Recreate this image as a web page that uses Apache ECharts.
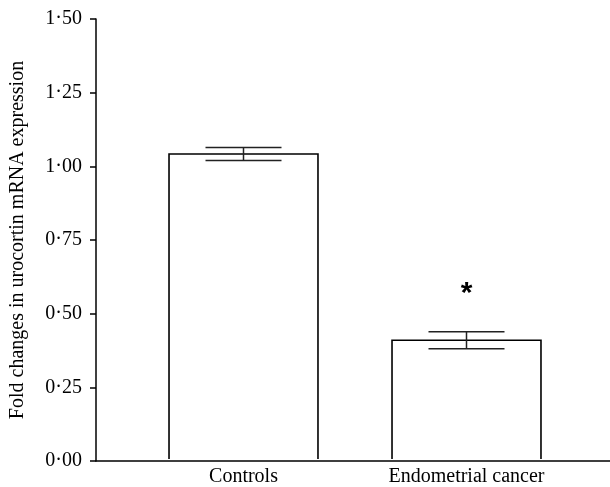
<!DOCTYPE html>
<html>
<head>
<meta charset="utf-8">
<script src="https://cdn.jsdelivr.net/npm/echarts@6/dist/echarts.min.js"></script>
<style>
html,body{margin:0;padding:0;background:#fff;}
#chart{width:610px;height:487px;}
</style>
</head>
<body>
<div id="chart"></div>
<script>
const categories = ['Controls', 'Endometrial cancer'];
const means = [1.04, 0.405];
const errors = [0.022, 0.029];
const significance = ['', '*'];
const yTickValues = [0, 0.25, 0.5, 0.75, 1.0, 1.25, 1.5];

const FONT = 'Liberation Serif';
const chart = echarts.init(document.getElementById('chart'));

const errData = categories.map((c, i) => [i, means[i], errors[i]]);
const starData = categories.map((c, i) => [i, means[i] + errors[i], significance[i]]);

chart.setOption({
  animation: false,
  backgroundColor: '#fff',
  grid: [
    {left: 94, right: -20, top: 19, bottom: 26},
    {left: 132, width: 446, top: 19, bottom: 26}
  ],
  xAxis: [
    {type: 'value', gridIndex: 0, min: 0, max: 1,
     axisLine: {show: true, lineStyle: {color: '#000', width: 1.5}},
     axisTick: {show: false}, axisLabel: {show: false}, splitLine: {show: false}},
    {type: 'category', gridIndex: 1, data: categories,
     axisLine: {show: false}, axisTick: {show: false}, splitLine: {show: false},
     axisLabel: {color: '#000', fontFamily: FONT, fontSize: 20, margin: 8}}
  ],
  yAxis: [
    {type: 'value', gridIndex: 0, min: 0, max: 1.5, interval: 0.25,
     axisLine: {show: true, lineStyle: {color: '#000', width: 1.5}},
     axisTick: {show: true, length: 6, inside: false, lineStyle: {color: '#000', width: 1.5}},
     splitLine: {show: false},
     axisLabel: {color: '#000', fontFamily: FONT, fontSize: 20, margin: 14,
       formatter: v => yTickValues.includes(+v.toFixed(2)) ? v.toFixed(2).replace('.', '·') : ''},
     name: 'Fold changes in urocortin mRNA expression',
     nameLocation: 'middle', nameGap: 68, nameRotate: 90,
     nameTextStyle: {color: '#000', fontFamily: FONT, fontSize: 20}},
    {type: 'value', gridIndex: 1, min: 0, max: 1.5, show: false}
  ],
  series: [
    {type: 'custom', xAxisIndex: 1, yAxisIndex: 1, data: means.map((m, i) => [i, m]), z: 1,
     renderItem: function (params, api) {
       const i = api.value(0);
       const topP = api.coord([i, api.value(1)]);
       const baseP = api.coord([i, 0]);
       const w = api.size([1, 0])[0] * 0.668;
       const l = topP[0] - w / 2, r = topP[0] + w / 2;
       return {type: 'group', children: [
         {type: 'rect', shape: {x: l, y: topP[1], width: w, height: baseP[1] - topP[1]},
          style: {fill: '#fff'}},
         {type: 'polyline', shape: {points: [[l, baseP[1]], [l, topP[1]], [r, topP[1]], [r, baseP[1]]]},
          style: {fill: null, stroke: '#000', lineWidth: 1.6}}
       ]};
     }},
    {type: 'custom', xAxisIndex: 1, yAxisIndex: 1, data: errData, z: 3,
     renderItem: function (params, api) {
       const i = api.value(0), m = api.value(1), e = api.value(2);
       const top = api.coord([i, m + e]);
       const bot = api.coord([i, m - e]);
       const hw = 38;
       const st = {stroke: '#222', lineWidth: 1.5};
       return {type: 'group', children: [
         {type: 'line', shape: {x1: top[0] - hw, y1: top[1], x2: top[0] + hw, y2: top[1]}, style: st},
         {type: 'line', shape: {x1: bot[0] - hw, y1: bot[1], x2: bot[0] + hw, y2: bot[1]}, style: st},
         {type: 'line', shape: {x1: top[0], y1: top[1], x2: bot[0], y2: bot[1]}, style: st}
       ]};
     }},
    {type: 'custom', xAxisIndex: 1, yAxisIndex: 1, data: starData, z: 3,
     renderItem: function (params, api) {
       const p = api.coord([api.value(0), api.value(1)]);
       return {type: 'text', x: p[0], y: p[1] - 38,
         style: {text: starData[params.dataIndex][2], fill: '#000', fontFamily: 'Liberation Sans',
                 fontWeight: 'bold', fontSize: 30, align: 'center', verticalAlign: 'middle'}};
     }}
  ]
});
</script>
</body>
</html>
